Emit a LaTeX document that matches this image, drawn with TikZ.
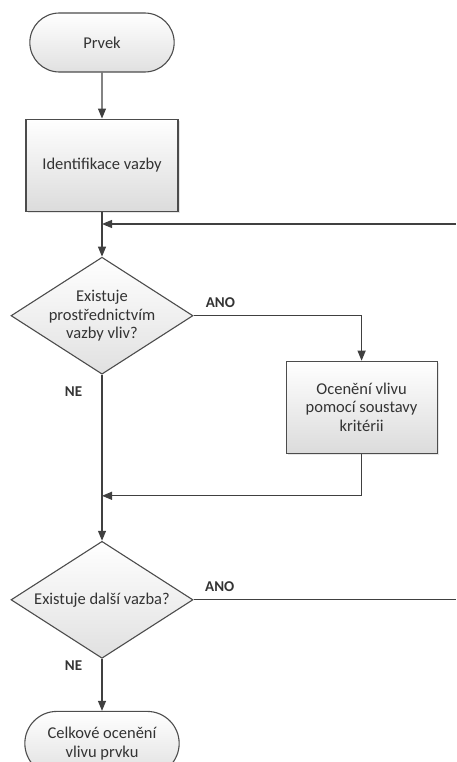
\documentclass[tikz,border=0pt]{standalone}
\usepackage{fontspec}
\setmainfont{Carlito}
\usetikzlibrary{shapes,arrows.meta,positioning,shadows}

\begin{document}
\begin{tikzpicture}[node distance=46pt, font=\fontsize{16.5}{18.5}\selectfont, text=black!80]
    % Define styles
    \tikzstyle{term} = [rounded rectangle, minimum width=151pt, minimum height=59pt, align=center, draw=black!70, line width=1.1pt, top color=white, bottom color=black!12]
    \tikzstyle{process} = [rectangle, minimum width=152pt, minimum height=92pt, align=center, draw=black!70, line width=1.1pt, top color=white, bottom color=black!14, drop shadow={opacity=0.2, shadow xshift=1.5pt, shadow yshift=-1.5pt}]
    \tikzstyle{decision} = [diamond, shape aspect=1.55, inner sep=-2pt, minimum width=182pt, minimum height=117pt, align=center, draw=black!70, line width=1.1pt, top color=white, bottom color=black!12]
    \tikzstyle{arrow} = [line width=1.2pt, draw=black!75, -{Triangle[length=10pt,width=8pt]}]
    \tikzstyle{line} = [line width=1.2pt, draw=black!75]
    \tikzstyle{answer} = [font=\fontsize{15}{17}\selectfont\bfseries]

    \useasboundingbox (0,0) rectangle (456pt,-762pt);

    % Flow nodes
    \node [term] (prvek) at (102pt,-42.5pt) {Prvek};
    \node [process, below=46pt of prvek] (ident) {Identifikace vazby};
    \node [decision, below=45pt of ident] (vliv) {Existuje\\prostřednictvím\\vazby vliv?};
    \node [process, minimum width=151pt, below right=45pt and 92pt of vliv.east] (oceneni) {Ocenění vlivu\\pomocí soustavy\\kritérii};
    \node [decision, below=166pt of vliv] (dalsi) {Existuje další vazba?};
    \node [term, minimum width=161pt, minimum height=64pt, below=52pt of dalsi] (celkove) {Celkové ocenění\\vlivu prvku};

    % Loop ends
    \coordinate (loopR) at (456pt,-224pt);
    \coordinate (exitR) at (dalsi.east -| loopR);
    \coordinate [below=42pt of oceneni.south] (mergeR);

    % Arrows
    \draw [arrow] (prvek) -- (ident);
    \draw [arrow] (ident) -- (vliv);
    \draw [arrow] (loopR) -- (loopR -| ident.south);
    \draw [arrow] (vliv.east) -| node [answer, pos=0.08, above, yshift=4pt] (ano1) {ANO} (oceneni.north);
    \draw [arrow] (vliv.south) -- node [answer, pos=0.1, left=16pt] (ne1) {NE} (dalsi.north);
    \draw [arrow] (oceneni.south) -- (mergeR) -- (mergeR -| vliv.south);
    \draw [line] (dalsi.east) -- node [answer, pos=0.1, above, yshift=4pt] (ano2) {ANO} (exitR);
    \draw [arrow] (dalsi.south) -- node [answer, pos=0.13, left=16pt] (ne2) {NE} (celkove.north);
\end{tikzpicture}
\end{document}
